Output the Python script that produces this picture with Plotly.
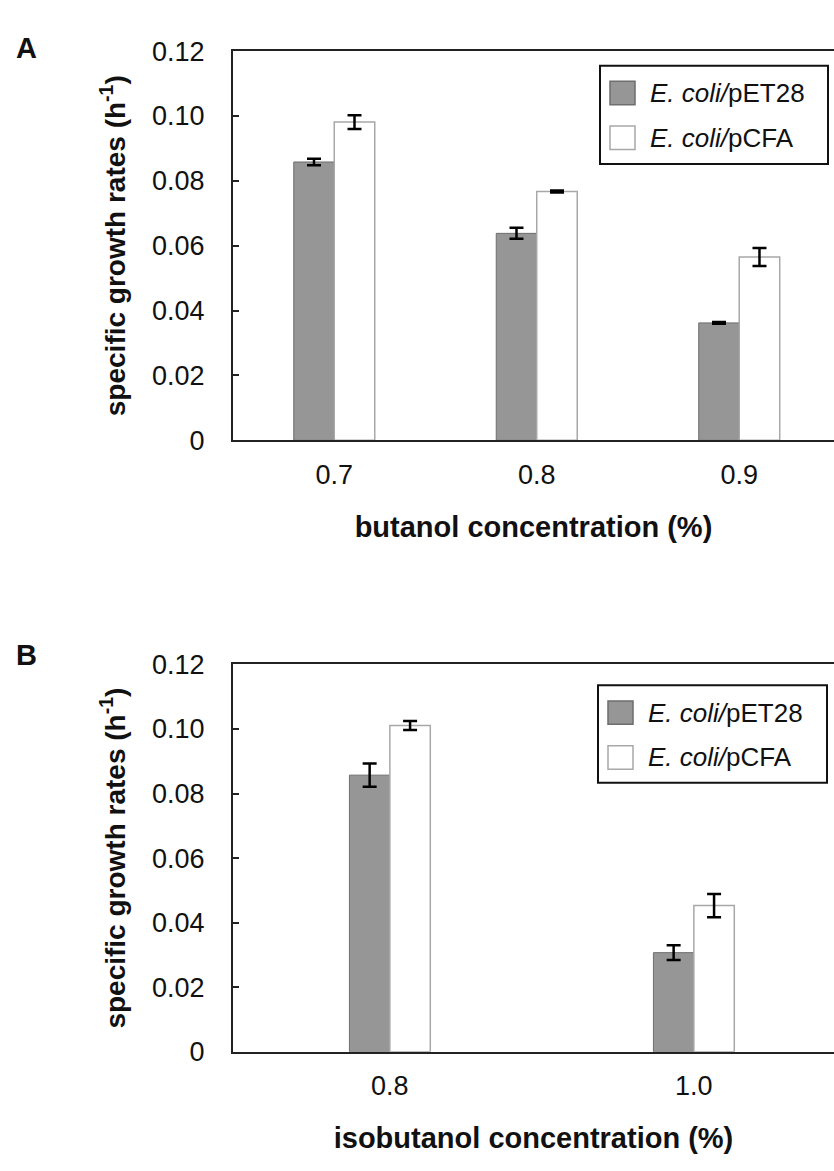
import plotly.graph_objects as go

# ---------------- data ----------------
series_names = ["E. coli/pET28", "E. coli/pCFA"]

butanol_conc = ["0.7", "0.8", "0.9"]
butanol_pet28 = [0.0858, 0.0638, 0.0362]
butanol_pet28_err = [0.0010, 0.0017, 0.0003]
butanol_pcfa = [0.0981, 0.0767, 0.0565]
butanol_pcfa_err = [0.0021, 0.0003, 0.0028]

isobutanol_conc = ["0.8", "1.0"]
isobutanol_pet28 = [0.0857, 0.0307]
isobutanol_pet28_err = [0.0036, 0.0023]
isobutanol_pcfa = [0.1011, 0.0453]
isobutanol_pcfa_err = [0.0014, 0.0036]

y_tick_vals = [0, 0.02, 0.04, 0.06, 0.08, 0.10, 0.12]
y_tick_text = ["0", "0.02", "0.04", "0.06", "0.08", "0.10", "0.12"]

# ---------------- style ----------------
W, H = 834, 1171
FONT = "Liberation Sans, Arial, Helvetica, sans-serif"
GRAY = "#969696"
GRAY_LINE = "#6e6e6e"
WHITE_LINE = "#a8a8a8"


def px_x(p):
    return p / W


def px_y(p):
    return 1 - p / H


fig = go.Figure()


def add_panel(xa, ya, cats, v1, e1, v2, e2, bw):
    fig.add_trace(go.Bar(
        x=cats, y=v1, name=series_names[0], xaxis=xa, yaxis=ya,
        offset=-bw, width=bw,
        marker=dict(color=GRAY, line=dict(color=GRAY_LINE, width=1)),
        error_y=dict(type="data", array=e1, visible=True, color="black",
                     thickness=2.5, width=7),
        showlegend=False))
    fig.add_trace(go.Bar(
        x=cats, y=v2, name=series_names[1], xaxis=xa, yaxis=ya,
        offset=0, width=bw,
        marker=dict(color="white", line=dict(color=WHITE_LINE, width=1.5)),
        error_y=dict(type="data", array=e2, visible=True, color="black",
                     thickness=2.5, width=7),
        showlegend=False))


add_panel("x", "y", butanol_conc, butanol_pet28, butanol_pet28_err,
          butanol_pcfa, butanol_pcfa_err, 0.2)
add_panel("x2", "y2", isobutanol_conc, isobutanol_pet28, isobutanol_pet28_err,
          isobutanol_pcfa, isobutanol_pcfa_err, 0.133)

xdom = [px_x(233), 1.0]
ydomA = [px_y(436.5), px_y(37)]
ydomB = [px_y(1064), px_y(666.5)]

xcommon = dict(showline=True, linecolor="#222", linewidth=2, mirror=True,
               ticks="", showgrid=False, zeroline=False,
               tickfont=dict(size=27, color="#111", family=FONT),
               ticklabelstandoff=9,
               title_font=dict(size=29, color="#111", family=FONT),
               title_standoff=28)
ycommon = dict(showline=True, linecolor="#222", linewidth=2, mirror=False,
               ticks="inside", ticklen=6, tickwidth=1.5, tickcolor="#222",
               showgrid=False, zeroline=False, range=[0, 0.12],
               tickvals=y_tick_vals, ticktext=y_tick_text,
               tickfont=dict(size=27, color="#111", family=FONT),
               ticklabelstandoff=21,
               title_font=dict(size=28, color="#111", family=FONT),
               title_standoff=18)

fig.update_layout(
    width=W, height=H, autosize=False,
    margin=dict(l=0, r=0, t=0, b=0),
    paper_bgcolor="white", plot_bgcolor="white",
    font=dict(family=FONT, color="#111"),
    barmode="overlay",
    xaxis=dict(domain=xdom, anchor="y", range=[-0.5, 2.468],
               title=dict(text="<b>butanol concentration (%)</b>"), **xcommon),
    yaxis=dict(domain=ydomA, anchor="x",
               title=dict(text="<b>specific growth rates (h<sup>-1</sup>)</b>"), **ycommon),
    xaxis2=dict(domain=xdom, anchor="y2", range=[-0.516, 1.461],
                title=dict(text="<b>isobutanol concentration (%)</b>"), **xcommon),
    yaxis2=dict(domain=ydomB, anchor="x2",
                title=dict(text="<b>specific growth rates (h<sup>-1</sup>)</b>"), **ycommon),
)

# ---------------- custom legends ----------------
shapes = []
annotations = []


def add_legend(box, row_centers, text_x):
    x0, y0, x1, y1 = box
    shapes.append(dict(type="rect", xref="paper", yref="paper",
                       x0=px_x(x0), x1=px_x(x1), y0=px_y(y1), y1=px_y(y0),
                       line=dict(color="#111", width=2), fillcolor="rgba(0,0,0,0)"))
    fills = [(GRAY, GRAY_LINE), ("white", WHITE_LINE)]
    for (fc, lc), cy, name in zip(fills, row_centers, series_names):
        shapes.append(dict(type="rect", xref="paper", yref="paper",
                           x0=px_x(x0 + 10), x1=px_x(x0 + 35),
                           y0=px_y(cy + 12), y1=px_y(cy - 12),
                           line=dict(color=lc, width=1.5), fillcolor=fc))
        strain, plasmid = name.split("/")
        annotations.append(dict(xref="paper", yref="paper", x=px_x(text_x),
                                y=px_y(cy), xanchor="left", yanchor="middle",
                                showarrow=False,
                                text="<i>" + strain + "/</i>" + plasmid,
                                font=dict(size=26, color="#111", family=FONT)))


add_legend((600, 52, 828, 153), [80, 126], 648)
add_legend((598, 688, 827, 788), [716, 762], 646)

annotations.append(dict(xref="paper", yref="paper", x=px_x(26), y=px_y(34),
                        xanchor="center", yanchor="middle", showarrow=False,
                        text="<b>A</b>", font=dict(size=29, color="#111", family=FONT)))
annotations.append(dict(xref="paper", yref="paper", x=px_x(26), y=px_y(657),
                        xanchor="center", yanchor="middle", showarrow=False,
                        text="<b>B</b>", font=dict(size=29, color="#111", family=FONT)))

fig.update_layout(shapes=shapes, annotations=annotations)

fig.write_html("out.html")
